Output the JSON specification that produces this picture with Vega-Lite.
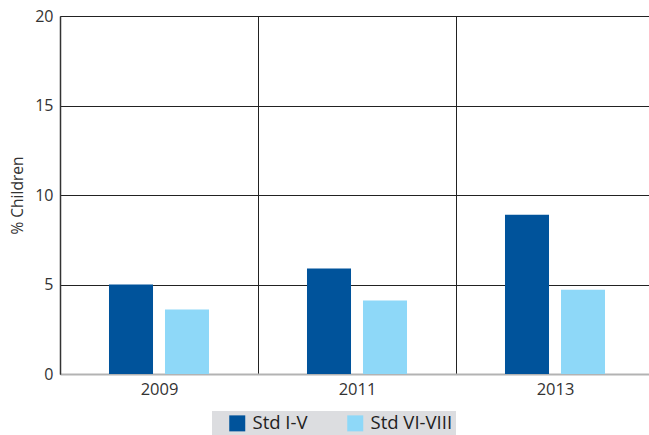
{
  "$schema": "https://vega.github.io/schema/vega-lite/v6.json",
  "autosize": "none",
  "width": 589,
  "height": 358,
  "padding": {"left": 60, "top": 16, "right": 0, "bottom": 61},
  "background": "white",
  "config": {
    "font": "Open Sans",
    "view": {"stroke": null},
    "axis": {"labelFont": "Open Sans", "titleFont": "Open Sans", "labelColor": "#333333", "titleColor": "#333333"}
  },
  "data": {
    "values": [
      {"year": "2009", "group": "Std I-V", "value": 5.0},
      {"year": "2009", "group": "Std VI-VIII", "value": 3.6},
      {"year": "2011", "group": "Std I-V", "value": 5.9},
      {"year": "2011", "group": "Std VI-VIII", "value": 4.1},
      {"year": "2013", "group": "Std I-V", "value": 8.9},
      {"year": "2013", "group": "Std VI-VIII", "value": 4.7}
    ]
  },
  "mark": {"type": "bar"},
  "encoding": {
    "x": {
      "field": "year", "type": "nominal",
      "scale": {"paddingInner": 0, "paddingOuter": 0, "range": [0, 594]},
      "axis": {
        "title": null, "labelAngle": 0, "labelFontSize": 16.5, "labelPadding": 7,
        "ticks": false, "tickBand": "extent",
        "grid": true, "gridColor": "#222222", "gridWidth": 1,
        "domainColor": "#b3b3b3", "domainWidth": 2
      }
    },
    "xOffset": {
      "field": "group", "type": "nominal",
      "scale": {"paddingInner": 0.214, "paddingOuter": 0.875}
    },
    "y": {
      "field": "value", "type": "quantitative",
      "scale": {"domain": [0, 20]},
      "axis": {
        "title": "% Children", "titleFontSize": 15.5, "titleFontWeight": "normal", "titlePadding": 9,
        "values": [0, 5, 10, 15, 20], "labelFontSize": 16, "labelPadding": 7,
        "ticks": false, "grid": true, "gridColor": "#222222", "gridWidth": 1,
        "domainColor": "#333333", "domainWidth": 1.5
      }
    },
    "color": {
      "field": "group", "type": "nominal",
      "scale": {"domain": ["Std I-V", "Std VI-VIII"], "range": ["#00539b", "#8ed8f8"]},
      "legend": {
        "title": null, "orient": "none", "direction": "horizontal",
        "legendX": 152, "legendY": 395,
        "fillColor": "#dcdde0", "padding": 3, "symbolOffset": 13,
        "symbolType": "square", "symbolSize": 256, "symbolStrokeWidth": 0,
        "labelFontSize": 18.5, "labelColor": "#222222", "labelFont": "Open Sans",
        "labelOffset": 6, "columnPadding": 25
      }
    }
  }
}
